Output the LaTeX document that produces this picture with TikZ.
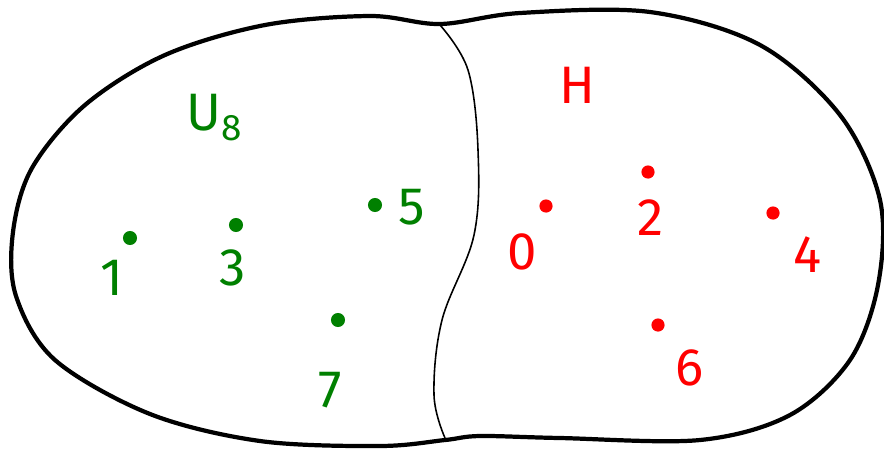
\documentclass[tikz,border=0pt]{standalone}
\usepackage{fontspec}
\setsansfont{Fira Sans}
\definecolor{grpgreen}{RGB}{0,128,0}
\tikzset{
  gdot/.style={circle,fill=grpgreen,inner sep=0pt,minimum size=8pt},
  rdot/.style={circle,fill=red,inner sep=0pt,minimum size=7.5pt},
  glabel/.style={text=grpgreen,font=\sffamily\fontsize{30}{30}\selectfont},
  rlabel/.style={text=red,font=\sffamily\fontsize{30}{30}\selectfont}
}
\begin{document}
\begin{tikzpicture}[x=0.02cm,y=-0.02cm]
\useasboundingbox (0,0) rectangle (884,458);
\draw[line width=2.4pt,line join=round] plot[smooth cycle,tension=0.55] coordinates {
(13,232) (32,168) (85,105) (165,55) (265,25) (370,16) (440,24) (520,13) (650,12)
(760,45) (840,115) (880,200) (878,285) (850,360) (790,415) (700,440) (560,438)
(480,436) (445,440) (380,446) (260,441) (150,414) (55,360) (16,296)};
\draw[line width=0.9pt] plot[smooth,tension=0.6] coordinates {
(440,25) (468,70) (478,150) (474,235) (442,320) (434,395) (445,438)};
% U_8 side
\node[glabel] (u8) at (215,118) {U\textsubscript{8}};
\node[gdot] (g1) at (130,238) {};
\node[gdot] (g3) at (236,225) {};
\node[gdot] (g5) at (375,205) {};
\node[gdot] (g7) at (338,320) {};
\node[glabel] (n1) at (112,278) {1};
\node[glabel] (n3) at (233,268) {3};
\node[glabel] (n5) at (412,207) {5};
\node[glabel] (n7) at (330,390) {7};
% H side
\node[rlabel] (h) at (577,85) {H};
\node[rdot] (r0) at (546,206) {};
\node[rdot] (r2) at (648,172) {};
\node[rdot] (r4) at (773,213) {};
\node[rdot] (r6) at (658,325) {};
\node[rlabel] (n0) at (522,252) {0};
\node[rlabel] (n2) at (651,218) {2};
\node[rlabel] (n4) at (808,255) {4};
\node[rlabel] (n6) at (690,368) {6};
\end{tikzpicture}
\end{document}
